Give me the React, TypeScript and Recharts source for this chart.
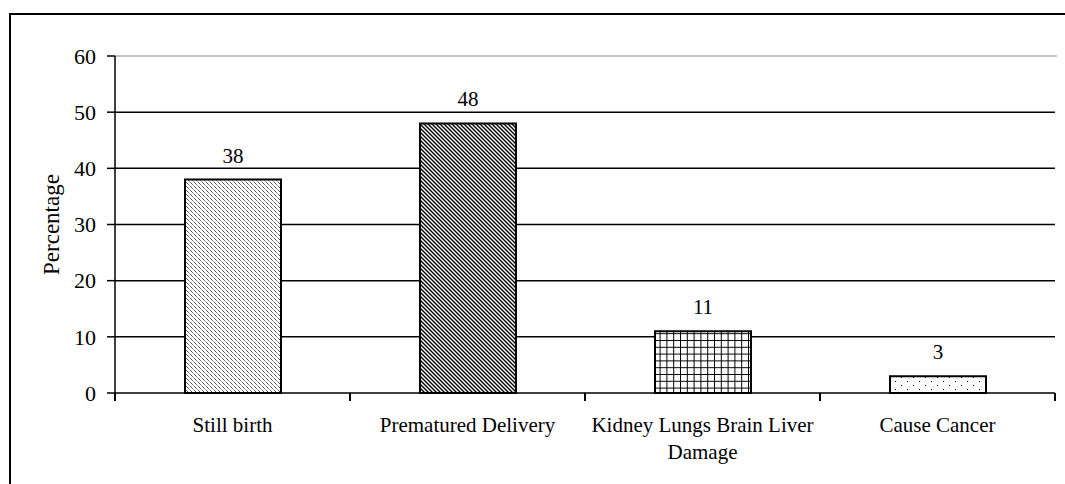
import React from "react";
import { BarChart, Bar, XAxis, YAxis, CartesianGrid, LabelList, Cell } from "recharts";

const categories = ["Still birth", "Prematured Delivery", "Kidney Lungs Brain Liver Damage", "Cause Cancer"];
const percentages = [38, 48, 11, 3];
const yTicks = [0, 10, 20, 30, 40, 50, 60];

const patternIds = ["pat-fine", "pat-diag", "pat-grid", "pat-dots"];
const data = categories.map((name, i) => ({ name, value: percentages[i] }));

const FONT = '"Liberation Serif", "Times New Roman", serif';

const wrap = (s: string, max = 24) => {
  const words = s.split(" ");
  const lines: string[] = [];
  let cur = "";
  for (const w of words) {
    if (cur && (cur + " " + w).length > max) {
      lines.push(cur);
      cur = w;
    } else cur = cur ? cur + " " + w : w;
  }
  if (cur) lines.push(cur);
  return lines;
};

// label plus the tick marks on the band edges (excel style)
const CategoryTick = ({ x, y, payload, width, visibleTicksCount, index }: any) => {
  const half = width / visibleTicksCount / 2;
  const last = index === visibleTicksCount - 1;
  return (
    <g>
      <line x1={x - half} x2={x - half} y1={y - 8} y2={y} stroke="#000" strokeWidth={2} />
      {last && <line x1={x + half} x2={x + half} y1={y - 8} y2={y} stroke="#000" strokeWidth={2} />}
      <text x={x} y={y} textAnchor="middle" fontFamily={FONT} fontSize={21} fill="#000">
        {wrap(payload.value).map((l, i) => (
          <tspan key={i} x={x} dy={i === 0 ? 31 : 27}>{l}</tspan>
        ))}
      </text>
    </g>
  );
};

const GridLine = (p: any) => {
  const top = p.y1 < 60;
  return (
    <line
      key={p.key}
      x1={p.x1}
      x2={top ? p.x2 + 2 : p.x2}
      y1={p.y1}
      y2={p.y2}
      stroke={top ? "#c4c4c4" : "#000"}
      strokeWidth={top ? 2 : 1.5}
    />
  );
};

export default function App() {
  return (
    <div style={{ position: "absolute", left: 0, top: 0, width: 1065, height: 484, overflow: "hidden", background: "#fff" }}>
      <svg width={0} height={0} style={{ position: "absolute" }}>
        <defs>
          <pattern id="pat-fine" width={4} height={4} patternUnits="userSpaceOnUse">
            <rect width={4} height={4} fill="#fff" />
            <path d="M-1,-1 L5,5 M-1,3 L1,5 M3,-1 L5,1" stroke="#000" strokeWidth={0.9} strokeDasharray="1.2 0.8" />
          </pattern>
          <pattern id="pat-diag" width={4} height={4} patternUnits="userSpaceOnUse">
            <rect width={4} height={4} fill="#fff" />
            <path d="M-1,-1 L5,5 M-1,3 L1,5 M3,-1 L5,1" stroke="#000" strokeWidth={1.4} />
          </pattern>
          <pattern id="pat-grid" width={6.8} height={6.8} patternUnits="userSpaceOnUse">
            <rect width={6.8} height={6.8} fill="#fff" />
            <path d="M0,0.5 H6.8 M0.5,0 V6.8" stroke="#000" strokeWidth={1} />
          </pattern>
          <pattern id="pat-dots" width={12} height={8} patternUnits="userSpaceOnUse">
            <rect width={12} height={8} fill="#fff" />
            <rect x={1} y={1} width={1} height={1} fill="#000" />
            <rect x={7} y={5} width={1} height={1} fill="#000" />
          </pattern>
        </defs>
      </svg>
      <div style={{ position: "absolute", left: 9, top: 13, width: 1100, height: 520, border: "2px solid #000" }} />
      <div style={{ position: "absolute", left: 0, top: 0 }}>
        <BarChart width={1065} height={484} data={data} margin={{ top: 56, right: 10, left: 0, bottom: 30 }}>
          <CartesianGrid vertical={false} horizontal={GridLine as any} />
          <XAxis dataKey="name" axisLine={false} tickLine={false} height={61} interval={0} tick={<CategoryTick />} />
          <YAxis
            domain={[0, 60]}
            ticks={yTicks}
            width={115}
            tickSize={8}
            tickMargin={11}
            axisLine={{ stroke: "#000", strokeWidth: 1.5 }}
            tickLine={{ stroke: "#000", strokeWidth: 1.5 }}
            tick={{ fontFamily: FONT, fontSize: 22, fill: "#000" }}
            label={{
              content: ({ viewBox }: any) => (
                <text
                  x={51}
                  y={viewBox.y + viewBox.height / 2}
                  transform={`rotate(-90 51 ${viewBox.y + viewBox.height / 2})`}
                  textAnchor="middle"
                  dominantBaseline="central"
                  fontFamily={FONT}
                  fontSize={23}
                  fill="#000"
                >
                  Percentage
                </text>
              ),
            }}
          />
          <Bar dataKey="value" barSize={96} stroke="#000" strokeWidth={2} isAnimationActive={false}>
            {data.map((_, i) => (
              <Cell key={i} fill={`url(#${patternIds[i]})`} />
            ))}
            <LabelList dataKey="value" position="top" offset={17} fill="#000" fontFamily={FONT} fontSize={21} />
          </Bar>
        </BarChart>
      </div>
    </div>
  );
}
